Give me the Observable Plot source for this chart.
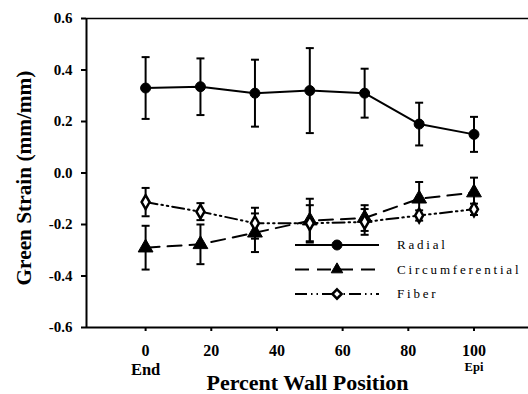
<!DOCTYPE html>
<html>
<head>
<meta charset="utf-8">
<script src="https://cdn.jsdelivr.net/npm/d3@7"></script>
<script src="https://cdn.jsdelivr.net/npm/@observablehq/plot@0.6"></script>
<style>
  html, body { margin: 0; padding: 0; background: #fff; }
  #chart svg { display: block; }
  #chart svg, #chart svg text { font-family: "Liberation Serif", "Times New Roman", serif !important; }
</style>
</head>
<body>
<div id="chart"></div>
<script>
// Transmural strain: mean ± SD at each wall position
const positions = [0, 16.7, 33.3, 50, 66.7, 83.3, 100];

const radial = [0.33, 0.335, 0.31, 0.32, 0.31, 0.19, 0.15];
const radialErr = [0.12, 0.11, 0.13, 0.165, 0.095, 0.083, 0.068];

const circumferential = [-0.29, -0.277, -0.232, -0.185, -0.175, -0.1, -0.076];
const circumferentialErr = [0.085, 0.077, 0.075, 0.085, 0.05, 0.065, 0.058];

const fiber = [-0.113, -0.15, -0.195, -0.195, -0.19, -0.165, -0.141];
const fiberErr = [0.055, 0.033, 0.06, 0.07, 0.05, 0.02, 0.022];

const seriesNames = ["Radial", "Circumferential", "Fiber"];
const xTicks = [0, 20, 40, 60, 80, 100];
const yTicks = [-0.6, -0.4, -0.2, 0.0, 0.2, 0.4, 0.6];
const endLabels = [{x: 0, text: "End"}];
const epiLabels = [{x: 100, text: "Epi"}];
const xDomain = [-18, 116.6];
const yDomain = [-0.6, 0.6];

// drawing styles per series
const styles = {
  Radial: {dash: null, symbol: "circle", fill: "black", r: 5},
  Circumferential: {dash: "14,8", symbol: "triangle", fill: "black", r: 5.5},
  Fiber: {dash: "12,4,1.5,4,1.5,4", symbol: "diamond", fill: "white", r: 4.2}
};

const valuesBy = {Radial: radial, Circumferential: circumferential, Fiber: fiber};
const errorsBy = {Radial: radialErr, Circumferential: circumferentialErr, Fiber: fiberErr};

const rows = seriesNames.flatMap(name =>
  positions.map((p, i) => ({series: name, x: p, y: valuesBy[name][i], e: errorsBy[name][i]}))
);

// horizontal cap for error bars
const cap = {
  draw(context, size) {
    const w = Math.sqrt(size / Math.PI);
    context.moveTo(-w, 0);
    context.lineTo(w, 0);
  }
};

const font = "Liberation Serif, Times New Roman, serif";

const marks = [
  Plot.ruleY([yDomain[1]], {stroke: "black", strokeWidth: 1.3}),
  Plot.ruleY([yDomain[0]], {stroke: "black", strokeWidth: 2}),
  Plot.ruleX([xDomain[0]], {stroke: "black", strokeWidth: 2}),
  Plot.axisY({
    ticks: yTicks, tickSize: 5, tickPadding: 9, strokeWidth: 2,
    tickFormat: d => d.toFixed(1), label: null, fontSize: 15, fontWeight: "bold"
  }),
  Plot.axisX({
    ticks: xTicks, tickSize: 4, tickPadding: 13, strokeWidth: 2,
    tickFormat: d => String(d), label: null, fontSize: 16, fontWeight: "bold"
  }),
  Plot.text(endLabels, {x: "x", text: "text", frameAnchor: "bottom", lineAnchor: "top",
    dy: 36, fontSize: 16.5, fontWeight: "bold"}),
  Plot.text(epiLabels, {x: "x", text: "text", frameAnchor: "bottom", lineAnchor: "top",
    dy: 35, fontSize: 12.5, fontWeight: "bold", style: "letter-spacing:1px"}),
  Plot.text(["Percent Wall Position"], {frameAnchor: "bottom", lineAnchor: "top",
    dy: 47, fontSize: 22, fontWeight: "bold"}),
  Plot.text(["Green Strain (mm/mm)"], {frameAnchor: "left", textAnchor: "middle", rotate: -90,
    lineAnchor: "middle", dx: -62, dy: 5, fontSize: 21.3, fontWeight: "bold"})
];

for (const name of seriesNames) {
  const s = styles[name];
  const data = rows.filter(d => d.series === name);
  marks.push(
    Plot.line(data, {x: "x", y: "y", stroke: "black", strokeWidth: 2,
      strokeDasharray: s.dash || undefined})
  );
}
for (const name of seriesNames) {
  const data = rows.filter(d => d.series === name);
  marks.push(
    Plot.ruleX(data, {x: "x", y1: d => d.y - d.e, y2: d => d.y + d.e, stroke: "black", strokeWidth: 2}),
    Plot.dot(data, {x: "x", y: d => d.y + d.e, symbol: cap, r: 4, stroke: "black", strokeWidth: 2, fill: "none"}),
    Plot.dot(data, {x: "x", y: d => d.y - d.e, symbol: cap, r: 4, stroke: "black", strokeWidth: 2, fill: "none"})
  );
}
for (const name of seriesNames) {
  const s = styles[name];
  const data = rows.filter(d => d.series === name);
  marks.push(
    Plot.dot(data, {x: "x", y: "y", symbol: s.symbol, r: s.r, fill: s.fill,
      stroke: "black", strokeWidth: name === "Fiber" ? 2.5 : 1})
  );
}

const chart = Plot.plot({
  width: 528,
  height: 394,
  marginLeft: 86,
  marginRight: 0,
  marginTop: 18,
  marginBottom: 67,
  style: `font-family: ${font}; background: white; color: black; overflow: visible;`,
  x: {domain: xDomain},
  y: {domain: yDomain},
  marks
});

// legend
const svg = d3.select(chart);
const legend = svg.append("g")
  .attr("font-family", font).attr("font-size", 13).attr("text-anchor", "start");
const legendTop = 245, legendStep = 24.5;
const symbolTypes = {circle: d3.symbolCircle, triangle: d3.symbolTriangle2, diamond: d3.symbolDiamond2};
seriesNames.forEach((name, i) => {
  const s = styles[name];
  const y = legendTop + i * legendStep;
  legend.append("line")
    .attr("x1", 295).attr("x2", 379).attr("y1", y).attr("y2", y)
    .attr("stroke", "black").attr("stroke-width", 2)
    .attr("stroke-dasharray", s.dash);
  legend.append("path")
    .attr("transform", `translate(337,${y})`)
    .attr("d", d3.symbol(symbolTypes[s.symbol], s.r * s.r * Math.PI)())
    .attr("fill", s.fill).attr("stroke", "black")
    .attr("stroke-width", name === "Fiber" ? 2.5 : 1);
  legend.append("text")
    .attr("x", 397).attr("y", y).attr("dy", "0.32em")
    .style("letter-spacing", "2.8px")
    .text(name);
});

document.getElementById("chart").append(chart);
</script>
</body>
</html>
